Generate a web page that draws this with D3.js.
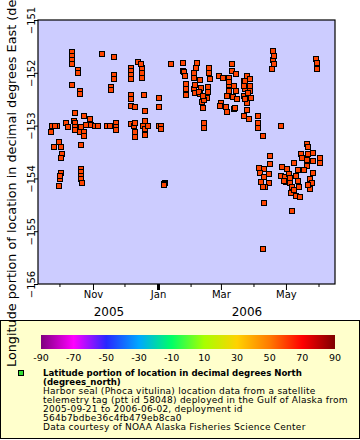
<!DOCTYPE html>
<html><head><meta charset="utf-8">
<script src="https://cdn.jsdelivr.net/npm/d3@7"></script>
<style>body{margin:0;background:#fff}svg{display:block;font-family:"DejaVu Sans",sans-serif}</style>
</head><body><svg id="c" width="360" height="440"></svg>
<script>
// ---- data ----
const dates = [
"2005-09-24","2005-09-28","2005-09-23","2005-09-25","2005-09-30","2005-10-02","2005-10-03","2005-10-02","2005-10-02","2005-10-01","2005-09-30","2005-10-01","2005-09-26",
"2005-10-12","2005-10-12","2005-10-12","2005-10-12","2005-10-18","2005-10-18","2005-10-12","2005-10-20","2005-10-20",
"2005-10-07","2005-10-09","2005-10-14","2005-10-15","2005-10-15","2005-10-15","2005-10-20","2005-10-24","2005-10-24","2005-10-24",
"2005-10-21","2005-10-21","2005-10-15","2005-10-25","2005-10-29","2005-10-30","2005-11-03","2005-11-06",
"2005-10-21","2005-10-21","2005-10-21","2005-10-21","2005-10-22",
"2005-11-09","2005-11-21","2005-11-18","2005-11-18","2005-11-21","2005-11-21","2005-11-14","2005-11-17","2005-11-23","2005-11-23","2005-11-23",
"2005-12-07","2005-12-07","2005-12-07","2005-12-07","2005-12-07","2005-12-07","2005-12-07","2005-12-10",
"2005-12-17","2005-12-17","2005-12-17","2005-12-17","2005-12-13","2005-12-19","2005-12-20","2005-12-16",
"2005-12-07","2005-12-09","2005-12-10","2005-12-10","2005-12-10","2005-12-18","2005-12-20","2005-12-20","2005-12-20","2005-12-23",
"2006-01-02","2006-01-02","2006-01-02","2006-01-04","2006-01-04","2006-01-08","2006-01-07","2006-01-07","2006-01-13",
"2006-01-24","2006-01-24","2006-01-25","2006-01-26","2006-01-27","2006-01-27","2006-01-27",
"2006-02-07","2006-02-06","2006-02-04","2006-02-04","2006-02-04","2006-02-05","2006-02-05","2006-02-09","2006-02-09","2006-02-10","2006-02-11","2006-02-12",
"2006-02-18","2006-02-18","2006-02-19","2006-02-17","2006-02-17","2006-02-16","2006-02-13","2006-02-13","2006-02-13","2006-02-08","2006-02-12",
"2006-02-27","2006-03-03","2006-03-09","2006-03-09","2006-03-09","2006-03-09","2006-03-11","2006-03-11","2006-03-15","2006-03-15",
"2006-03-07","2006-03-07","2006-03-13","2006-03-13","2006-03-12","2006-03-16","2006-03-01","2006-02-28","2006-03-06","2006-03-14",
"2006-03-23","2006-03-23","2006-03-23","2006-03-25","2006-03-25","2006-03-25","2006-03-28","2006-03-28","2006-03-28",
"2006-03-24","2006-03-24","2006-03-24","2006-03-23","2006-03-29","2006-03-27","2006-03-26",
"2006-04-05","2006-04-05","2006-04-05","2006-04-09",
"2006-04-19","2006-04-19","2006-04-20","2006-04-20","2006-04-18","2006-04-26",
"2006-05-29","2006-05-30","2006-05-30","2006-05-21",
"2006-04-16","2006-04-16","2006-04-06","2006-04-10","2006-04-07","2006-04-10","2006-04-15","2006-04-08","2006-04-15","2006-04-11","2006-04-09","2006-04-10","2006-04-09",
"2006-04-27","2006-05-02","2006-04-26","2006-04-30","2006-05-04","2006-05-01","2006-05-05","2006-05-07","2006-05-06","2006-05-09","2006-05-10","2006-05-14",
"2006-05-13","2006-05-12","2006-05-12","2006-05-10","2006-05-09","2006-05-15","2006-05-16","2006-05-21","2006-05-22","2006-05-22","2006-05-21","2006-05-21",
"2006-05-18","2006-05-26","2006-05-26","2006-05-26","2006-05-24","2006-05-24","2006-05-25","2006-05-22","2006-05-07","2006-06-02","2006-06-02","2006-04-29","2006-05-05"
];
const lons = [
-153.00,-153.00,-153.13,-153.41,-153.32,-153.41,-153.54,-153.62,-153.89,-154.02,-154.14,-153.95,-153.01,
-151.61,-151.68,-151.76,-151.83,-151.95,-152.01,-152.23,-152.35,-152.40,
-152.96,-153.02,-152.91,-152.96,-153.02,-153.08,-153.12,-153.13,-153.20,-152.81,
-153.37,-153.03,-152.76,-152.99,-152.88,-152.99,-153.01,-153.00,
-153.82,-153.88,-153.95,-154.02,-154.09,
-151.65,-151.71,-152.26,-152.33,-152.04,-152.12,-153.01,-153.01,-152.96,-153.02,-153.08,
-151.90,-151.97,-152.04,-152.12,-152.42,-152.50,-152.63,-152.64,
-151.90,-152.04,-152.10,-152.00,-151.80,-152.42,-152.72,-151.83,
-152.97,-153.01,-152.96,-153.13,-153.22,-153.01,-152.91,-153.06,-153.18,-153.01,
-152.47,-152.64,-153.01,-153.01,-153.07,-154.09,-154.11,-154.12,-151.83,
-151.82,-151.96,-151.98,-152.06,-152.21,-152.31,-152.42,
-151.81,-151.91,-152.01,-152.10,-152.31,-152.23,-152.39,-152.14,-152.40,-152.28,-152.55,-152.67,
-151.90,-152.01,-152.12,-152.26,-152.36,-152.48,-152.52,-152.96,-153.05,-152.36,-152.44,
-152.07,-152.09,-152.09,-152.23,-152.34,-152.17,-151.97,-151.83,-152.02,-152.34,
-152.44,-152.74,-152.25,-152.69,-152.45,-152.50,-152.57,-152.63,-152.65,-152.66,
-152.16,-152.43,-152.82,-152.06,-152.58,-152.71,-152.12,-152.25,-152.34,
-152.31,-152.50,-152.15,-152.25,-152.47,-152.87,-152.38,
-152.82,-152.95,-153.05,-153.20,
-151.59,-151.76,-151.68,-151.84,-151.93,-153.01,
-151.74,-151.82,-151.92,-153.35,
-153.58,-153.73,-153.81,-153.82,-153.90,-153.98,-153.92,-154.06,-154.08,-154.16,-154.16,-154.46,-155.33,
-153.78,-153.83,-153.96,-153.97,-153.92,-154.06,-154.09,-154.16,-154.28,-154.22,-154.33,-154.35,
-154.16,-154.04,-153.84,-153.96,-153.70,-153.53,-153.62,-153.35,-153.41,-153.53,-153.65,-153.77,
-153.84,-153.51,-153.67,-153.90,-154.02,-154.20,-154.09,-154.13,-154.62,-153.62,-153.70,-154.04,-154.00
];
const yTicks = [-156,-155,-154,-153,-152,-151];
const monthLabels = ["Nov","Jan","Mar","May"];
const yearLabels = ["2005","2006"];
const cbTicks = [-90,-70,-50,-30,-10,10,30,50,70,90];
const cbColors = ["#7f007f","#ff00ff","#2828ff","#00a8ff","#00ff66","#a8ff00","#ffd200","#ff7a00","#ff0000","#7f0000"];
const legendTitle = ["Latitude portion of location in decimal degrees North","(degrees_north)"];
const legendLines = ["Harbor seal (Phoca vitulina) location data from a satellite",
"telemetry tag (ptt id 58048) deployed in the Gulf of Alaska from",
"2005-09-21 to 2006-06-02, deployment id",
"564b7bdbe36c4fb479eb8ca0",
"Data courtesy of NOAA Alaska Fisheries Science Center"];
const yTitle = "Longitude portion of location in decimal degrees East (degrees_east)";

// ---- chart ----
const svg = d3.select("#c");
const parse = d3.utcParse("%Y-%m-%d");
const pts = dates.map((d,i)=>({t:parse(d), v:lons[i]}));
const L=38, R=335, T=20, B=284;
const x = d3.scaleUtc().domain([new Date(Date.UTC(2005,8,10,10)), new Date(Date.UTC(2006,5,16,0))]).range([L,R]);
const y = d3.scaleLinear().domain([-156,-151]).range([B,T]);

svg.append("rect").attr("x",L).attr("y",T).attr("width",R-L).attr("height",B-T).attr("fill","#ccccff");

// points
svg.append("g").selectAll("rect").data(pts).join("rect")
  .attr("x",d=>Math.round(x(d.t))-2.5).attr("y",d=>Math.round(y(d.v))-2.5)
  .attr("width",5).attr("height",5).attr("fill","#ff4400").attr("stroke","#000").attr("stroke-width",1);

// frame
svg.append("rect").attr("x",L).attr("y",T).attr("width",R-L).attr("height",B-T).attr("fill","none").attr("stroke","#000").attr("stroke-width",1.2);

// y axis
const ya = svg.append("g").attr("transform",`translate(${L},0)`)
  .call(d3.axisLeft(y).tickValues(yTicks).tickSize(4).tickFormat(d3.format("d")));
ya.select(".domain").remove();
ya.selectAll(".tick text").each(function(d){
  d3.select(this).attr("x",null).attr("dy",null)
   .attr("transform",`translate(-3,0) rotate(-90)`).attr("text-anchor","middle")
   .attr("font-size",10).attr("font-family","DejaVu Sans");
});

// x axis: major months
const majors = d3.utcMonths(new Date(Date.UTC(2005,10,1)), new Date(Date.UTC(2006,5,2)), 2);
const minors = d3.utcMonths(new Date(Date.UTC(2005,9,1)), new Date(Date.UTC(2006,5,2)), 2);
const xa = svg.append("g").attr("transform",`translate(0,${B})`)
  .call(d3.axisBottom(x).tickValues(majors).tickSize(6).tickFormat((d,i)=>monthLabels[i]));
xa.select(".domain").remove();
xa.selectAll("text").attr("font-size",10).attr("font-family","DejaVu Sans").attr("dy","0.9em").attr("y",5);
xa.selectAll(".tick line").attr("stroke-width",(d)=>d.getUTCMonth()===0?3:1);
svg.append("g").selectAll("line").data(minors).join("line")
  .attr("x1",d=>x(d)).attr("x2",d=>x(d)).attr("y1",B).attr("y2",B+3).attr("stroke","#000");

// year labels
svg.append("text").attr("x",109).attr("y",316).attr("text-anchor","middle").attr("font-size",12).text(yearLabels[0]);
svg.append("text").attr("x",247).attr("y",316).attr("text-anchor","middle").attr("font-size",12).text(yearLabels[1]);

// legend box
svg.append("rect").attr("x",0.5).attr("y",320.5).attr("width",359).attr("height",118).attr("fill","#ffffcc").attr("stroke","#000");

// y title (drawn over legend)
svg.append("text").attr("transform","translate(16,367) rotate(-90)").attr("font-size",12.8).text(yTitle);

// colorbar
const cb = d3.scaleLinear().domain([-90,90]).range([41,335]);
const grad = svg.append("defs").append("linearGradient").attr("id","g");
cbTicks.forEach((t,i)=>grad.append("stop").attr("offset",(t+90)/180).attr("stop-color",cbColors[i]));
svg.append("rect").attr("x",cb(-90)).attr("y",335).attr("width",cb(90)-cb(-90)).attr("height",14).attr("fill","url(#g)");
svg.append("g").selectAll("text").data(cbTicks).join("text")
  .attr("x",d=>cb(d)).attr("y",361).attr("text-anchor","middle").attr("font-size",9.5).text(d=>d);

// legend entry
svg.append("rect").attr("x",18.5).attr("y",370.5).attr("width",5).attr("height",5).attr("fill","#33dd33").attr("stroke","#000");
const lt = svg.append("g");
legendTitle.forEach((s,i)=>lt.append("text").attr("x",43).attr("y",376+i*9).attr("font-size",8.6).attr("font-weight","bold").text(s));
legendLines.forEach((s,i)=>lt.append("text").attr("x",43).attr("y",394+i*9).attr("font-size",9).attr("letter-spacing",0.25).text(s));
</script></body></html>
